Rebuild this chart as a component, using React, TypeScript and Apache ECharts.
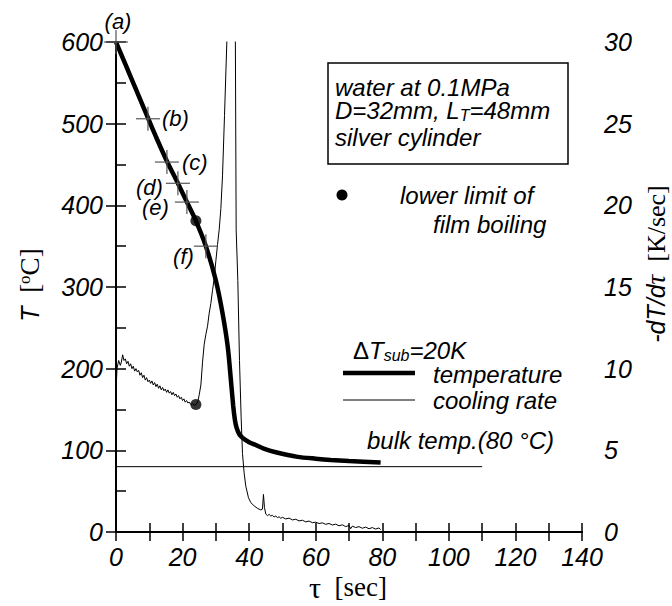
import React, { useEffect, useRef } from "react";
import * as echarts from "echarts";

// ---- data ----
const xTicks = { min: 0, max: 140, interval: 20 };
const tAxis = { min: 0, max: 600, interval: 100 };
const rAxis = { min: 0, max: 30, interval: 5 };

// temperature T [°C] vs tau [sec]
const temperature: [number, number][] = [
  [0, 600], [3, 571], [6, 542], [9.6, 507], [12, 484], [15.3, 454], [18.6, 427],
  [21.3, 404], [24, 381], [27, 350], [30, 308], [32, 268], [33.6, 226], [34.5, 187],
  [35.2, 155], [35.7, 138], [36.2, 128], [37, 120], [38, 115.5], [40, 110], [42, 106.5],
  [44.4, 102], [48, 97.6], [54.6, 92], [60, 89.8], [64.5, 88.3], [70, 87], [79.5, 85],
];

// cooling rate -dT/dtau [K/sec] vs tau [sec]
const coolingRate: [number, number][] = [
  [0, 8.6], [0.3, 10.0], [0.8, 10.5], [1.3, 10.2], [1.6, 10.4], [2.0, 10.85], [2.4, 10.5],
  [2.8, 10.6], [3.2, 10.3], [3.6, 10.45], [4.0, 10.15], [4.4, 10.3], [4.8, 10.0], [5.2, 10.15],
  [5.6, 9.85], [6.0, 10.0], [6.4, 9.8], [6.8, 9.9], [7.2, 9.6], [7.6, 9.75], [8.0, 9.45],
  [8.4, 9.6], [8.8, 9.3], [9.2, 9.45], [9.6, 9.2], [10.0, 9.3], [10.4, 9.1], [10.8, 9.25],
  [11.2, 9.0], [11.6, 9.15], [12.0, 8.9], [12.4, 9.05], [12.8, 8.8], [13.2, 8.95], [13.6, 8.7],
  [14.0, 8.85], [14.4, 8.65], [14.8, 8.75], [15.2, 8.55], [15.6, 8.7], [16.0, 8.5], [16.4, 8.6],
  [16.8, 8.4], [17.2, 8.55], [17.6, 8.35], [18.0, 8.45], [18.4, 8.25], [18.8, 8.35], [19.2, 8.15],
  [19.6, 8.25], [20.0, 8.05], [20.4, 8.15], [20.8, 7.95], [21.2, 8.05], [21.6, 7.9], [22.0, 7.95],
  [22.5, 7.8], [23.0, 7.85], [23.5, 7.75], [24.0, 7.8], [24.6, 8.0], [25.0, 8.4], [25.5, 9.0],
  [26.0, 10.4], [26.5, 11.5], [27.0, 12.1], [27.5, 12.6], [28.0, 13.4], [28.5, 14.0], [29.0, 14.8],
  [29.5, 15.5], [30.0, 16.6], [30.5, 17.6], [31.0, 18.5], [31.5, 19.8], [32.0, 21.8], [32.6, 25.5],
  [33.3, 30], [34.0, 38], [35.0, 42], [35.8, 33], [36.1, 18.5], [36.6, 15.4], [37.1, 10.5],
  [37.6, 7.0], [38.0, 4.8], [38.5, 3.6], [39.0, 2.8], [39.8, 2.1], [40.5, 1.8], [41.5, 1.6],
  [42.5, 1.45], [43.5, 1.35], [44.0, 1.4], [44.3, 2.3], [44.6, 1.5], [45.0, 1.1], [45.5, 1.0],
  [46, 1.08], [46.5, 0.98], [47, 1.02], [47.5, 0.92], [48, 0.98], [48.5, 0.88], [49, 0.93],
  [49.5, 0.84], [50, 0.9], [51, 0.8], [52, 0.85], [53, 0.74], [54, 0.78], [55, 0.68], [56, 0.72],
  [57, 0.62], [58, 0.67], [59, 0.57], [60, 0.6], [61, 0.52], [62, 0.56], [63, 0.47], [64, 0.52],
  [65, 0.43], [66, 0.48], [67, 0.38], [68, 0.44], [69, 0.33], [70, 0.4], [70.5, 0.2], [71, 0.36],
  [72, 0.27], [73, 0.33], [74, 0.23], [75, 0.3], [76, 0.2], [77, 0.27], [78, 0.18], [79, 0.25],
  [79.5, 0.15],
];

const bulkTemp: [number, number][] = [[0, 80], [110, 80]];

const filmLimitT: [number, number][] = [[24, 381]];
const filmLimitRate: [number, number][] = [[24, 7.8]];

const crossPoints: [number, number][] = [
  [0, 600], [9.6, 506], [15.3, 453], [18.6, 427], [21.3, 404], [27, 350],
];
const crossLabels = ["(a)", "(b)", "(c)", "(d)", "(e)", "(f)"];

// ---- layout / style ----
const sans = '"Liberation Sans", Arial, sans-serif';
const serif = '"Liberation Serif", "Times New Roman", serif';
const crossLabelLayout = [
  { dx: 2, dy: -21, align: "center" },
  { dx: 14, dy: 0, align: "left" },
  { dx: 15, dy: 0, align: "left" },
  { dx: -15, dy: 4, align: "right" },
  { dx: -18, dy: 5, align: "right" },
  { dx: -12, dy: 10, align: "right" },
];

function txt(x: number, y: number, text: string, extra: any = {}, rich?: any, rotation = 0) {
  const align = extra.align || "left";
  return {
    type: "text",
    x,
    y,
    rotation,
    z: 10,
    style: {
      text,
      fill: "#000",
      fontFamily: sans,
      fontStyle: "italic",
      fontSize: 24,
      align,
      textAlign: align,
      verticalAlign: "middle",
      textVerticalAlign: "middle",
      rich,
      ...extra,
    },
  };
}

export default function App() {
  const ref = useRef<HTMLDivElement>(null);
  useEffect(() => {
    if (!ref.current) return;
    const chart = echarts.init(ref.current, undefined, { renderer: "svg" });
    const axisLine = { show: true, lineStyle: { color: "#000", width: 2 } };
    const labelStyle = { fontFamily: sans, fontStyle: "italic", fontSize: 25, color: "#000" };

    const option: any = {
      animation: false,
      backgroundColor: "#fff",
      grid: { left: 116, right: 90, top: 42, bottom: 74, containLabel: false },
      xAxis: [
        {
          type: "value", position: "bottom", ...xTicks,
          axisLine, splitLine: { show: false },
          axisTick: { inside: true, length: 9, lineStyle: { color: "#000", width: 1.5 } },
          minorTick: { show: true, splitNumber: 2, length: 9, lineStyle: { color: "#000", width: 1.5 } },
          axisLabel: { ...labelStyle, margin: 12 },
        },
        {
          type: "value", position: "top", ...xTicks,
          axisLine, splitLine: { show: false },
          axisTick: { inside: true, length: 9, lineStyle: { color: "#000", width: 1.5 } },
          minorTick: { show: true, splitNumber: 2, length: 9, lineStyle: { color: "#000", width: 1.5 } },
          axisLabel: { show: false },
        },
      ],
      yAxis: [
        {
          type: "value", position: "left", ...tAxis,
          axisLine, splitLine: { show: false },
          axisTick: { inside: true, length: 10, lineStyle: { color: "#000", width: 1.5 } },
          minorTick: { show: true, splitNumber: 2, length: 10, lineStyle: { color: "#000", width: 1.5 } },
          axisLabel: { ...labelStyle, margin: 13 },
        },
        {
          type: "value", position: "right", ...rAxis,
          axisLine, splitLine: { show: false },
          axisTick: { inside: true, length: 10, lineStyle: { color: "#000", width: 1.5 } },
          axisLabel: { ...labelStyle, margin: 22 },
        },
      ],
      series: [
        {
          type: "line", data: bulkTemp, xAxisIndex: 0, yAxisIndex: 0, showSymbol: false,
          lineStyle: { color: "#000", width: 1 }, silent: true,
        },
        {
          type: "line", data: coolingRate, xAxisIndex: 0, yAxisIndex: 1, showSymbol: false,
          lineStyle: { color: "#000", width: 1 }, clip: true, silent: true,
        },
        {
          type: "line", data: temperature, xAxisIndex: 0, yAxisIndex: 0, showSymbol: false,
          smooth: 0.25, lineStyle: { color: "#000", width: 4.5 }, silent: true,
        },
        {
          type: "scatter", data: filmLimitT, xAxisIndex: 0, yAxisIndex: 0,
          symbolSize: 11, itemStyle: { color: "#000" }, z: 5,
        },
        {
          type: "scatter", data: filmLimitRate, xAxisIndex: 0, yAxisIndex: 1,
          symbolSize: 11, itemStyle: { color: "#000" }, z: 5,
        },
        {
          type: "custom", data: crossPoints, xAxisIndex: 0, yAxisIndex: 0, clip: false, z: 4,
          renderItem: (params: any, api: any) => {
            const i = params.dataIndex;
            const p = api.coord([api.value(0), api.value(1)]);
            const lay = crossLabelLayout[i];
            return {
              type: "group",
              children: [
                { type: "line", shape: { x1: p[0] - 12, y1: p[1], x2: p[0] + 12, y2: p[1] },
                  style: { stroke: "#555", lineWidth: 1.2 } },
                { type: "line", shape: { x1: p[0], y1: p[1] - 12, x2: p[0], y2: p[1] + 12 },
                  style: { stroke: "#555", lineWidth: 1.2 } },
                {
                  type: "text", x: p[0] + lay.dx, y: p[1] + lay.dy,
                  style: {
                    text: crossLabels[i], fill: "#000", fontFamily: sans, fontStyle: "italic",
                    fontSize: 22, align: lay.align, textAlign: lay.align,
                    verticalAlign: "middle", textVerticalAlign: "middle",
                  },
                },
              ],
            };
          },
        },
      ],
      graphic: [
        { type: "rect", shape: { x: 328, y: 63, width: 240, height: 101 },
          style: { fill: "none", stroke: "#000", lineWidth: 1.5 }, z: 10 },
        txt(335, 87, "water at 0.1MPa"),
        txt(335, 110, "{a|D=32mm, L}{s|T}{a|=48mm}", {}, {
          a: { fontFamily: sans, fontStyle: "italic", fontSize: 24, fill: "#000" },
          s: { fontFamily: sans, fontStyle: "italic", fontSize: 16, fill: "#000", padding: [10, 0, 0, 0] },
        }),
        txt(335, 137, "silver cylinder"),
        { type: "circle", shape: { cx: 342, cy: 195, r: 5.5 }, style: { fill: "#000" }, z: 10 },
        txt(400, 195, "lower limit of"),
        txt(433, 224, "film boiling"),
        txt(353, 350, "{d|Δ}{a|T}{s|sub}{a|=20K}", {}, {
          d: { fontFamily: sans, fontStyle: "normal", fontSize: 24, fill: "#000" },
          a: { fontFamily: sans, fontStyle: "italic", fontSize: 24, fill: "#000" },
          s: { fontFamily: sans, fontStyle: "italic", fontSize: 16, fill: "#000", padding: [10, 0, 0, 0] },
        }),
        { type: "line", shape: { x1: 343, y1: 373, x2: 415, y2: 373 },
          style: { stroke: "#000", lineWidth: 4.5 }, z: 10 },
        txt(433, 374, "temperature"),
        { type: "line", shape: { x1: 343, y1: 400, x2: 415, y2: 400 },
          style: { stroke: "#000", lineWidth: 1 }, z: 10 },
        txt(433, 400, "cooling rate"),
        txt(367, 440, "bulk temp.(80 °C)"),
        // axis names
        txt(348, 587, "{g|τ}{b|  [sec]}", { align: "center" }, {
          g: { fontFamily: serif, fontStyle: "normal", fontSize: 30, fill: "#000" },
          b: { fontFamily: serif, fontStyle: "normal", fontSize: 27, fill: "#000" },
        }),
        txt(30, 285, "{t|T}{b|  [}{o|o}{b|C]}", { align: "center" }, {
          t: { fontFamily: sans, fontStyle: "italic", fontSize: 25, fill: "#000" },
          b: { fontFamily: serif, fontStyle: "normal", fontSize: 27, fill: "#000" },
          o: { fontFamily: serif, fontStyle: "normal", fontSize: 17, fill: "#000", padding: [0, 0, 12, 0] },
        }, Math.PI / 2),
        txt(656, 264, "{t|-dT/d}{g|τ}{b|  [K/sec]}", { align: "center" }, {
          t: { fontFamily: sans, fontStyle: "italic", fontSize: 25, fill: "#000" },
          g: { fontFamily: serif, fontStyle: "italic", fontSize: 27, fill: "#000" },
          b: { fontFamily: serif, fontStyle: "normal", fontSize: 26, fill: "#000" },
        }, Math.PI / 2),
      ],
    };
    chart.setOption(option);
    return () => chart.dispose();
  }, []);
  return (
    <div
      ref={ref}
      style={{ position: "fixed", left: 0, top: 0, width: 672, height: 606, background: "#fff" }}
    />
  );
}
